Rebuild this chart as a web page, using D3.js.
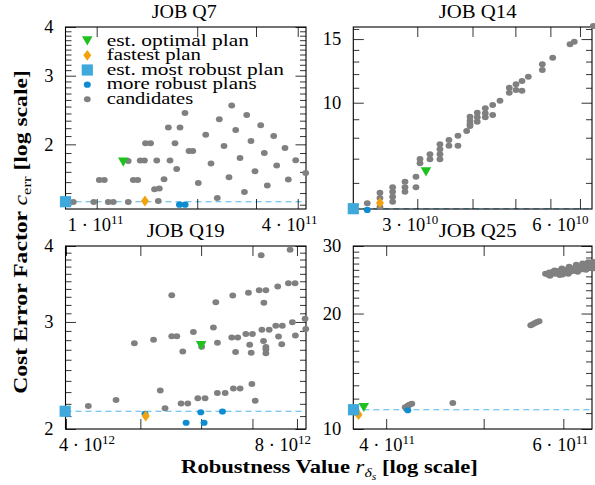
<!DOCTYPE html>
<html>
<head>
<meta charset="utf-8">
<script src="https://cdn.jsdelivr.net/npm/d3@7"></script>
<style>
  body { margin: 0; background: #fff; }
  svg { display: block; font-family: "Liberation Serif", "Times New Roman", serif; }
</style>
</head>
<body>
<svg id="chart" width="595" height="485"></svg>
<script>
// ---- data (x = robustness value, y = cost error factor) ----
const q7Candidates = [
  [0.851e11,1.423],[0.980e11,1.423],[1.083e11,1.423],[1.121e11,1.423],[1.243e11,1.423],[1.529e11,1.431],
  [2.297e11,1.457],[2.770e11,1.509],[3.243e11,1.568],[3.749e11,1.624],[4.227e11,1.689],
  [1.49e11,1.534],[1.54e11,1.540],
  [2.015e11,1.592],[2.490e11,1.646],[2.979e11,1.706],[3.460e11,1.764],[3.945e11,1.820],
  [1.591e11,1.627],[1.736e11,1.729],[2.200e11,1.785],[2.687e11,1.845],[3.177e11,1.900],[3.664e11,1.957],
  [1.890e11,1.923],[1.940e11,1.923],[2.406e11,1.980],[2.898e11,2.040],[3.390e11,2.101],
  [2.121e11,2.118],[2.608e11,2.177],[3.099e11,2.238],
  [2.329e11,2.319],[2.814e11,2.378],[2.537e11,2.514],[1.838e11,2.407],[1.639e11,2.208],[1.776e11,2.208],
  [1.716e11,2.012],[1.400e11,2.012],[1.450e11,2.012],
  [1.658e11,1.817],[1.513e11,1.817],[1.350e11,1.817],[1.390e11,1.817],[1.243e11,1.812],
  [1.287e11,1.620],[1.327e11,1.620],[1.018e11,1.620],[1.054e11,1.620]
];
const q7Robust = [[1.77e11,1.400],[1.84e11,1.400]];
const q7Optimal = [[1.201e11,1.802]];
const q7Fastest = [[1.395e11,1.431]];
const q7MostRobust = [[0.8064e11,1.425]];

const q14Candidates = [
  [2.312e10,5.269],
  [2.470e10,5.637],[2.470e10,5.450],[2.470e10,5.146],
  [2.639e10,5.834],[2.639e10,5.673],[2.639e10,5.495],[2.639e10,5.323],
  [2.814e10,6.046],[2.814e10,5.834],[2.814e10,5.673],
  [2.980e10,6.242],[2.980e10,5.834],
  [3.043e10,6.987],[3.043e10,6.798],
  [3.205e10,7.199],[3.205e10,6.974],
  [3.376e10,7.672],[3.376e10,7.432],[3.376e10,7.199],[3.376e10,6.974],
  [3.538e10,7.885],[3.538e10,7.604],
  [3.708e10,8.104],[3.708e10,7.604],
  [3.880e10,8.350],
  [3.948e10,9.147],[3.948e10,8.917],[3.948e10,8.731],[3.948e10,8.621],
  [4.100e10,9.383],[4.100e10,9.112],[4.100e10,8.860],
  [4.275e10,9.649],[4.275e10,9.347],[4.275e10,9.112],
  [4.443e10,9.247],[4.443e10,9.855],
  [4.615e10,10.128],
  [4.844e10,11.002],[4.844e10,10.658],
  [5.016e10,11.243],[5.016e10,10.843],
  [5.176e10,11.482],[5.176e10,10.794],
  [5.348e10,11.801],
  [5.753e10,12.771],[5.753e10,12.316],
  [6.073e10,13.319],
  [6.646e10,14.506],[6.796e10,14.748],
  [7.503e10,16.30]
];
const q14Robust = [[2.312e10,5.049]];
const q14Optimal = [[3.139e10,6.444]];
const q14Fastest = [[2.470e10,5.28]];
const q14MostRobust = [[2.150e10,5.09]];

const q19Candidates = [
  [4.277e12,2.182],[4.648e12,2.232],[5.308e12,2.314],[5.385e12,2.164],
  [4.911e12,2.768],[5.202e12,2.805],[5.494e12,3.320],[5.494e12,2.841],[5.578e12,2.841],[5.679e12,2.683],[5.863e12,2.888],
  [5.650e12,2.203],[5.765e12,2.203],[5.941e12,2.248],[6.072e12,2.248],
  [6.01e12,2.730],
  [6.226e12,2.938],[6.271e12,3.232],[6.302e12,2.774],[6.300e12,2.292],[6.449e12,2.292],
  [6.598e12,3.316],[6.578e12,2.829],[6.698e12,2.829],[6.610e12,2.332],[6.745e12,2.332],[6.654e12,2.677],
  [6.916e12,3.350],[6.862e12,2.867],[7.000e12,2.867],[6.942e12,2.752],[6.988e12,2.372],[6.973e12,2.670],[7.058e12,2.226],
  [7.143e12,3.384],[7.288e12,3.384],[7.186e12,3.862],[7.244e12,3.227],[7.201e12,2.914],[7.360e12,2.914],[7.236e12,2.791],
  [7.288e12,2.728],[7.288e12,2.705],[7.288e12,2.665],
  [7.506e12,2.957],[7.656e12,2.957],[7.569e12,2.839],[7.643e12,2.756],[7.551e12,3.432],
  [7.797e12,3.474],[7.955e12,3.474],[7.837e12,3.945],[7.891e12,2.996],[7.962e12,2.850],
  [8.197e12,3.036],[8.214e12,2.921]
];
const q19Robust = [[5.07e12,2.118],[5.736e12,2.048],[5.994e12,2.131],[6.054e12,2.048],[6.397e12,2.137]];
const q19Optimal = [[6.000e12,2.744]];
const q19Fastest = [[5.081e12,2.101]];
const q19MostRobust = [[3.99e12,2.139]];

const q25Candidates = [
  [4.178e11,11.39],[4.190e11,11.30],[4.195e11,11.45],[4.209e11,11.53],[4.225e11,11.59],[4.242e11,11.64],
  [4.659e11,11.69],
  [5.569e11,18.64],[5.595e11,18.75],[5.624e11,18.90],[5.650e11,19.00],[5.676e11,19.09],
  [5.76e11,25.4],[5.79e11,25.3],[5.81e11,25.6],[5.84e11,25.4],[5.86e11,25.7],[5.89e11,25.4],[5.91e11,25.8],
  [5.94e11,25.5],[5.96e11,25.9],[5.99e11,25.3],[6.01e11,26.0],[6.04e11,25.6],[6.06e11,26.1],[6.09e11,25.7],
  [6.11e11,26.2],[6.13e11,25.8],[6.16e11,26.3],[6.18e11,25.9],[6.21e11,26.4],[6.23e11,26.0],[6.26e11,26.5],
  [6.28e11,26.1],[6.31e11,26.6],[6.33e11,26.2],[6.36e11,26.7],[6.38e11,26.4],[6.41e11,26.9],[6.43e11,26.5],
  [5.88e11,25.9],[5.98e11,26.2],[6.08e11,26.5],[6.18e11,26.8],[6.27e11,27.0],[6.35e11,27.2],[6.42e11,27.3],
  [5.82e11,25.1],[5.95e11,25.2],[6.07e11,25.4],[6.20e11,25.7],[6.32e11,26.0],[6.42e11,26.2]
];
const q25Robust = [[3.74e11,11.0],[4.203e11,11.19]];
const q25Optimal = [[3.80e11,11.39]];
const q25Fastest = [[3.755e11,10.9]];
const q25MostRobust = [[3.712e11,11.228]];

// ---- axes: domains and ticks ----
const q7XDomain = [0.8064e11, 4.235e11], q7YDomain = [1.365, 4];
const q14XDomain = [2.150e10, 7.452e10], q14YDomain = [5.08, 16.2];
const q19XDomain = [3.994e12, 8.22e12], q19YDomain = [2, 4];
const q25XDomain = [3.71e11, 6.407e11], q25YDomain = [10, 30];

const q7XTicks = [1e11, 2e11, 3e11, 4e11];
const q14XTicks = [3e10, 4e10, 5e10, 6e10, 7e10];
const q19XTicks = [4e12, 5e12, 6e12, 7e12, 8e12];
const q25XTicks = [4e11, 5e11, 6e11];

const q7XLabels = [[1e11, '1', '11'], [4e11, '4', '11']];
const q14XLabels = [[3e10, '3', '10'], [6e10, '6', '10']];
const q19XLabels = [[4e12, '4', '12'], [8e12, '8', '12']];
const q25XLabels = [[4e11, '4', '11'], [6e11, '6', '11']];

const q7YMajor = [2, 3, 4];
const q14YMajor = [10, 15];
const q19YMajor = [2, 3, 4];
const q25YMajor = [10, 20, 30];
const q7YMinor = d3.range(14, 40).filter(v => v % 10 !== 0).map(v => v / 10);
const q14YMinor = [6, 7, 8, 9, 11, 12, 13, 14, 16];
const q19YMinor = d3.range(21, 40).filter(v => v !== 30).map(v => v / 10);
const q25YMinor = d3.range(11, 30).filter(v => v !== 20);

const legendItems = ['est. optimal plan', 'fastest plan', 'est. most robust plan', 'more robust plans', 'candidates'];

// ---- style ----
const gray = '#808080';
const green = '#1fc11f';
const orange = '#f2a30c';
const squareBlue = '#3fa9dc';
const dotBlue = '#0e8cd0';
const dashBlue = '#55b5e6';
const fs = 18.5;

const svg = d3.select('#chart');
const cols = [[65.5, 306], [353.3, 592]];
const rows = [[27, 209], [246, 429]];

const triDown = { draw(ctx) { ctx.moveTo(-5.3, -4.4); ctx.lineTo(5.3, -4.4); ctx.lineTo(0, 4.8); ctx.closePath(); } };
const diamond = { draw(ctx) { ctx.moveTo(0, -5.4); ctx.lineTo(4, 0); ctx.lineTo(0, 5.4); ctx.lineTo(-4, 0); ctx.closePath(); } };
const square = { draw(ctx) { ctx.rect(-5.6, -5.6, 11.2, 11.2); } };

function fitWidth(text, target) {
  const w = text.node().getBBox().width;
  text.attr('transform', `scale(${target / w},1)`);
}

const panels = [
  { title: 'JOB Q7', col: 0, row: 0, titleDx: -1.5, titleW: 65,
    xDomain: q7XDomain, yDomain: q7YDomain, xTicks: q7XTicks, xLabels: q7XLabels, xLabelDx: [-1, -8],
    yMajor: q7YMajor, yMinor: q7YMinor,
    cand: q7Candidates, robust: q7Robust, optimal: q7Optimal, fastest: q7Fastest, mostRobust: q7MostRobust },
  { title: 'JOB Q14', col: 1, row: 0, titleDx: 5, titleW: 78,
    xDomain: q14XDomain, yDomain: q14YDomain, xTicks: q14XTicks, xLabels: q14XLabels, xLabelDx: [-7, 10],
    yMajor: q14YMajor, yMinor: q14YMinor,
    cand: q14Candidates, robust: q14Robust, optimal: q14Optimal, fastest: q14Fastest, mostRobust: q14MostRobust },
  { title: 'JOB Q19', col: 0, row: 1, titleDx: 0, titleW: 78,
    xDomain: q19XDomain, yDomain: q19YDomain, xTicks: q19XTicks, xLabels: q19XLabels, xLabelDx: [21, -14],
    yMajor: q19YMajor, yMinor: q19YMinor,
    cand: q19Candidates, robust: q19Robust, optimal: q19Optimal, fastest: q19Fastest, mostRobust: q19MostRobust },
  { title: 'JOB Q25', col: 1, row: 1, titleDx: 5, titleW: 78,
    xDomain: q25XDomain, yDomain: q25YDomain, xTicks: q25XTicks, xLabels: q25XLabels, xLabelDx: [1, -3],
    yMajor: q25YMajor, yMinor: q25YMinor,
    cand: q25Candidates, robust: q25Robust, optimal: q25Optimal, fastest: q25Fastest, mostRobust: q25MostRobust }
];

function styleAxis(g) {
  g.select('.domain').remove();
  g.selectAll('.tick line').attr('stroke', '#000').attr('stroke-width', 0.8);
  g.attr('font-family', null).attr('font-size', fs);
}

panels.forEach(p => {
  const [x0, x1] = cols[p.col], [y0, y1] = rows[p.row];
  const w = x1 - x0, h = y1 - y0;
  const g = svg.append('g').attr('transform', `translate(${x0},${y0})`);
  const x = d3.scaleLog().domain(p.xDomain).range([0, w]);
  const y = d3.scaleLog().domain(p.yDomain).range([h, 0]);

  // dashed reference line at the most robust plan
  g.append('line')
    .attr('x1', 0).attr('x2', w)
    .attr('y1', y(p.mostRobust[0][1])).attr('y2', y(p.mostRobust[0][1]))
    .attr('stroke', dashBlue).attr('stroke-width', 1.1).attr('stroke-dasharray', '6,4');

  // ticks on all four sides, pointing inward
  g.append('g').attr('transform', `translate(0,${h})`)
    .call(d3.axisBottom(x).tickValues(p.xTicks).tickSize(-10).tickFormat('')).call(styleAxis);
  g.append('g')
    .call(d3.axisTop(x).tickValues(p.xTicks).tickSize(-10).tickFormat('')).call(styleAxis);
  g.append('g')
    .call(d3.axisLeft(y).tickValues(p.yMajor).tickSize(-10.5).tickPadding(12).tickFormat(d3.format('d'))).call(styleAxis);
  g.append('g')
    .call(d3.axisLeft(y).tickValues(p.yMinor).tickSize(-6).tickFormat('')).call(styleAxis);
  g.append('g').attr('transform', `translate(${w},0)`)
    .call(d3.axisRight(y).tickValues(p.yMajor).tickSize(-10.5).tickFormat('')).call(styleAxis);
  g.append('g').attr('transform', `translate(${w},0)`)
    .call(d3.axisRight(y).tickValues(p.yMinor).tickSize(-6).tickFormat('')).call(styleAxis);

  g.append('rect').attr('width', w).attr('height', h)
    .attr('fill', 'none').attr('stroke', '#000').attr('stroke-width', 1.1);

  // x tick labels: m · 10^e
  p.xLabels.forEach(([v, m, e], i) => {
    const t = g.append('text')
      .attr('x', x(v) + p.xLabelDx[i]).attr('y', h + 22)
      .attr('text-anchor', 'middle').attr('font-size', fs);
    t.append('tspan').text(`${m} · 10`);
    t.append('tspan').attr('dy', -7.5).attr('font-size', 13).text(e);
  });

  // title
  const tg = g.append('g').attr('transform', `translate(${w / 2 + p.titleDx},-9)`);
  const tt = tg.append('text').attr('text-anchor', 'middle').attr('font-size', fs).text(p.title);
  fitWidth(tt, p.titleW);

  // marks
  g.append('g').selectAll('ellipse').data(p.cand).join('ellipse')
    .attr('cx', d => x(d[0])).attr('cy', d => y(d[1])).attr('rx', 3.4).attr('ry', 3).attr('fill', gray);
  g.append('g').selectAll('ellipse').data(p.robust).join('ellipse')
    .attr('cx', d => x(d[0])).attr('cy', d => y(d[1])).attr('rx', 3.5).attr('ry', 3.1).attr('fill', dotBlue);
  g.append('g').selectAll('path').data(p.fastest).join('path')
    .attr('d', d3.symbol().type(diamond))
    .attr('transform', d => `translate(${x(d[0])},${y(d[1])})`).attr('fill', orange);
  g.append('g').selectAll('path').data(p.optimal).join('path')
    .attr('d', d3.symbol().type(triDown))
    .attr('transform', d => `translate(${x(d[0])},${y(d[1])})`).attr('fill', green);
  g.append('g').selectAll('path').data(p.mostRobust).join('path')
    .attr('d', d3.symbol().type(square))
    .attr('transform', d => `translate(${x(d[0])},${y(d[1])})`).attr('fill', squareBlue);

  // legend in the first panel
  if (p.col === 0 && p.row === 0) {
    const lg = g.append('g').attr('transform', 'translate(21.8,13.7)');
    const widths = [143, 95, 178, 150, 86.5];
    legendItems.forEach((label, i) => {
      const row = lg.append('g').attr('transform', `translate(0,${i * 14.65})`);
      if (i === 0) row.append('path').attr('d', d3.symbol().type(triDown)()).attr('fill', green);
      if (i === 1) row.append('path').attr('d', d3.symbol().type(diamond)()).attr('fill', orange);
      if (i === 2) row.append('path').attr('d', d3.symbol().type(square)()).attr('fill', squareBlue);
      if (i === 3) row.append('ellipse').attr('rx', 3.5).attr('ry', 3.1).attr('fill', dotBlue);
      if (i === 4) row.append('ellipse').attr('rx', 3.4).attr('ry', 3).attr('fill', gray);
      const tx = row.append('g').attr('transform', 'translate(19.4,4.8)');
      const t = tx.append('text').attr('font-size', 17).text(label);
      fitWidth(t, widths[i]);
    });
  }
});

// axis titles
const yl = svg.append('g').attr('transform', 'translate(26.5,232) rotate(-90)');
const ylt = yl.append('text').attr('text-anchor', 'middle').attr('font-size', fs).attr('font-weight', 'bold');
ylt.append('tspan').text('Cost Error Factor ');
ylt.append('tspan').attr('font-style', 'italic').attr('font-weight', 'normal').text('c');
ylt.append('tspan').attr('font-weight', 'normal').attr('font-size', 13).attr('dy', 4).text('err');
ylt.append('tspan').attr('dy', -4).text(' [log scale]');
fitWidth(ylt, 324);

const xl = svg.append('g').attr('transform', 'translate(329.5,473)');
const xlt = xl.append('text').attr('text-anchor', 'middle').attr('font-size', fs).attr('font-weight', 'bold');
xlt.append('tspan').text('Robustness Value ');
xlt.append('tspan').attr('font-style', 'italic').attr('font-weight', 'normal').text('r');
xlt.append('tspan').attr('font-style', 'italic').attr('font-weight', 'normal').attr('font-size', 13).attr('dy', 4).text('δ');
xlt.append('tspan').attr('font-style', 'italic').attr('font-weight', 'normal').attr('font-size', 9.5).attr('dy', 2.5).text('s');
xlt.append('tspan').attr('dy', -6.5).text(' [log scale]');
fitWidth(xlt, 297);
</script>
</body>
</html>
